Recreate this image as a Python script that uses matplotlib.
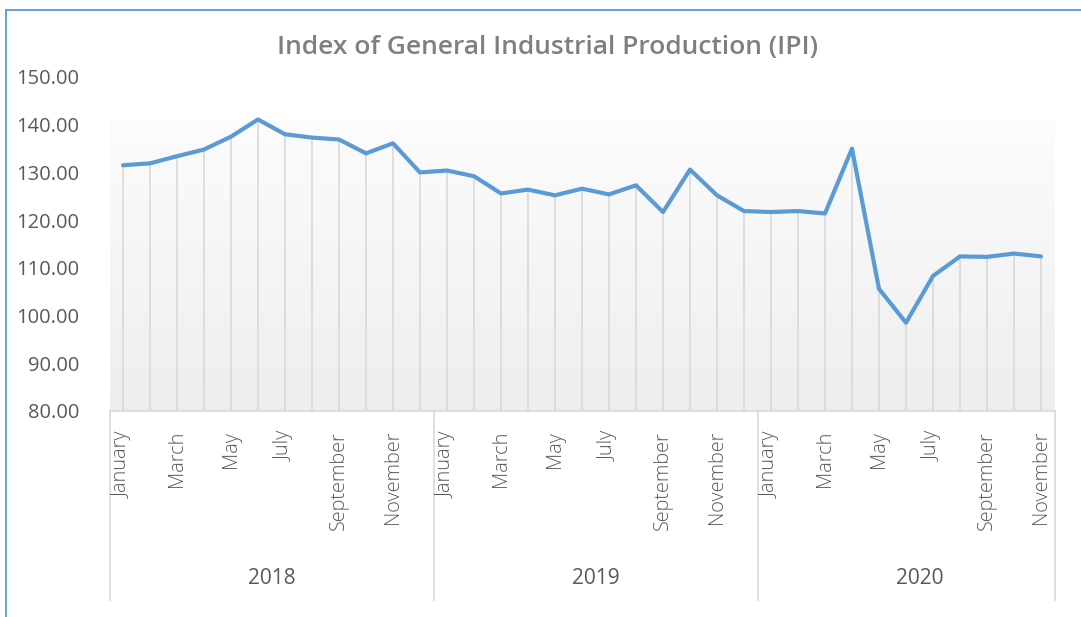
import numpy as np
import matplotlib
matplotlib.use("Agg")
import matplotlib.pyplot as plt
from matplotlib.lines import Line2D
from matplotlib.colors import LinearSegmentedColormap

years = ["2018", "2019", "2020"]
months = ["January", "February", "March", "April", "May", "June", "July",
          "August", "September", "October", "November", "December"]
months_per_year = [12, 12, 11]
ipi = [131.5, 131.9, 133.4, 134.8, 137.5, 141.1, 138.0, 137.3, 136.9, 134.0, 136.1, 130.0,
       130.4, 129.2, 125.6, 126.4, 125.2, 126.6, 125.4, 127.3, 121.7, 130.6, 125.2, 121.9,
       121.7, 121.9, 121.4, 135.0, 105.6, 98.5, 108.3, 112.4, 112.3, 113.0, 112.4]
yticks = [80, 90, 100, 110, 120, 130, 140, 150]
title = "Index of General Industrial Production (IPI)"

plt.rcParams['font.family'] = ['Open Sans', 'DejaVu Sans']

W, H = 1081, 617
fig = plt.figure(figsize=(W / 100, H / 100), dpi=100)
fig.patch.set_facecolor("white")

# outer frame (cut by image edges)
fig.add_artist(Line2D([6 / W, 6 / W], [0, 1 - 10 / H], transform=fig.transFigure,
                      color="#5b9bd5", lw=1.3))
fig.add_artist(Line2D([6 / W, 1], [1 - 10 / H, 1 - 10 / H], transform=fig.transFigure,
                      color="#5b9bd5", lw=1.3))

left, right, top, bottom = 109.5, 1054.5, 77, 411
ax = fig.add_axes([left / W, 1 - bottom / H, (right - left) / W, (bottom - top) / H])
n = len(ipi)
x = np.arange(n)
ax.set_xlim(-0.5, n - 0.5)
ax.set_ylim(80, 150)
ax.patch.set_alpha(0)
for s in ax.spines.values():
    s.set_visible(False)

# gradient background
grad = np.linspace(0, 1, 256).reshape(-1, 1)
cmap = LinearSegmentedColormap.from_list("g", ["#eeeeee", "#fcfcfc"])
ax.imshow(grad, extent=(-0.5, n - 0.5, 80, 140.8), origin="lower", cmap=cmap,
          aspect="auto", zorder=0)

# drop lines
ax.vlines(x, 80, ipi, colors="#d9d9d9", lw=1.2, zorder=1)
ax.plot(x, ipi, color="#5b9bd5", lw=3.0, zorder=3, solid_joinstyle="round",
        solid_capstyle="round")

ax.set_yticks(yticks)
ax.set_yticklabels([f"{v:.2f}" for v in yticks])
ax.tick_params(axis="y", length=0, pad=22, labelsize=14.5, labelcolor="#595959")
ax.set_xticks([])

# category axis
tr = ax.get_xaxis_transform()
axh = bottom - top
ax.plot([-0.5, n - 0.5], [0, 0], transform=tr, color="#d9d9d9", lw=1.2, clip_on=False)
bounds = np.concatenate([[0], np.cumsum(months_per_year)]) - 0.5
ybot = -(600 - bottom) / axh
for b in bounds:
    ax.plot([b, b], [0, ybot], transform=tr, color="#d9d9d9", lw=1.2, clip_on=False)
i = 0
for yi, (yr, nm) in enumerate(zip(years, months_per_year)):
    for m in range(nm):
        if m % 2 == 0:
            ax.text(i + m, -(431 - bottom) / axh, months[m], transform=tr, rotation=90,
                    ha="center", va="top", fontsize=14.3, color="#595959",
                    fontweight="light", clip_on=False)
    ax.text(i + (nm - 1) / 2 + (0.5 if nm == 11 else 0), -(578 - bottom) / axh, yr,
            transform=tr, ha="center", va="center", fontsize=15, color="#595959",
            clip_on=False)
    i += nm

fig.text(547.5 / W, 1 - 48 / H, title, ha="center", va="center", fontsize=19,
         color="#7f7f7f", fontweight="semibold")

fig.savefig("out.png", dpi=100, facecolor="white")
